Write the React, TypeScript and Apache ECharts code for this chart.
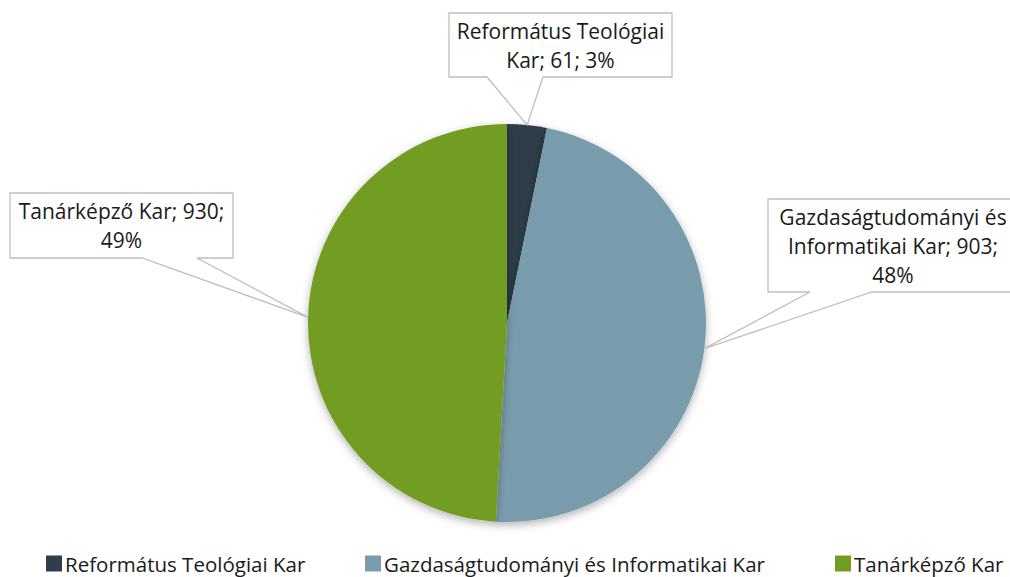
import React, { useEffect, useRef } from "react";
import * as echarts from "echarts";

const categories = [
  "Református Teológiai Kar",
  "Gazdaságtudományi és Informatikai Kar",
  "Tanárképző Kar",
];
const values = [61, 903, 930];
const colors = ["#2f3e4a", "#799cac", "#739c23"];
// how many words go on each line of the callout label
const wrapWords = [[2, 3], [2, 3, 1], [3, 1]];

// layout (pixels)
const CX = 507;
const CY = 323;
const R = 199;
const FONT = "'Open Sans', 'Noto Sans', sans-serif";
const boxes = [
  { x: 449, y: 13, w: 223, h: 64, b1: 487, b2: 543, tx: 560.5 },
  { x: 768, y: 199, w: 252, h: 93, b1: 810, b2: 872, tx: 893 },
  { x: 10, y: 193, w: 223, h: 65, b1: 142, b2: 197, tx: 121.5 },
];
const legendLeft = [46, 365, 835];

function labelText(i: number, total: number): string {
  const pct = Math.round((values[i] / total) * 100);
  const words = `${categories[i]}; ${values[i]}; ${pct}%`.split(" ");
  const lines: string[] = [];
  let k = 0;
  for (const n of wrapWords[i]) {
    lines.push(words.slice(k, k + n).join(" "));
    k += n;
  }
  return lines.join("\n");
}

export default function App() {
  const ref = useRef<HTMLDivElement>(null);
  useEffect(() => {
    if (!ref.current) return;
    const chart = echarts.init(ref.current, undefined, { renderer: "svg" });
    const total = values.reduce((a, b) => a + b, 0);
    let cum = 0;
    const graphics: any[] = [];
    values.forEach((v, i) => {
      const mid = ((cum + v / 2) / total) * Math.PI * 2;
      cum += v;
      const tx = CX + R * Math.sin(mid);
      const ty = CY - R * Math.cos(mid);
      const b = boxes[i];
      const x1 = b.x + b.w;
      const y1 = b.y + b.h;
      graphics.push({
        type: "polygon",
        z: 10,
        shape: {
          points: [
            [b.x, b.y],
            [x1, b.y],
            [x1, y1],
            [b.b2, y1],
            [tx, ty],
            [b.b1, y1],
            [b.x, y1],
          ],
        },
        style: { fill: "#ffffff", stroke: "#bfbfbf", lineWidth: 1.3 },
      });
      graphics.push({
        type: "text",
        z: 11,
        x: b.tx,
        y: b.y + b.h / 2,
        style: {
          text: labelText(i, total),
          fontFamily: FONT,
          fontSize: 21,
          lineHeight: 29,
          fill: "#1a1a1a",
          align: "center",
          verticalAlign: "middle",
        },
      });
    });

    chart.setOption({
      animation: false,
      color: colors,
      legend: categories.map((c, i) => ({
        data: [c],
        left: legendLeft[i],
        top: 553,
        padding: 0,
        itemWidth: 16,
        itemHeight: 16,
        itemGap: 0,
        icon: "rect",
        selectedMode: false,
        textStyle: {
          fontFamily: FONT,
          fontSize: 20.5,
          lineHeight: 20,
          color: "#1a1a1a",
          padding: [0, 0, 0, -2],
        },
      })),
      series: [
        {
          type: "pie",
          center: [CX, CY],
          radius: R,
          startAngle: 90,
          clockwise: true,
          silent: true,
          label: { show: false },
          labelLine: { show: false },
          itemStyle: {
            shadowBlur: 8,
            shadowOffsetY: 3,
            shadowColor: "rgba(0,0,0,0.3)",
          },
          data: categories.map((c, i) => ({ name: c, value: values[i] })),
        },
      ],
      graphic: graphics,
    });
    return () => chart.dispose();
  }, []);
  return (
    <div
      ref={ref}
      style={{ position: "fixed", left: 0, top: 0, width: 1010, height: 577, background: "#fff" }}
    />
  );
}
